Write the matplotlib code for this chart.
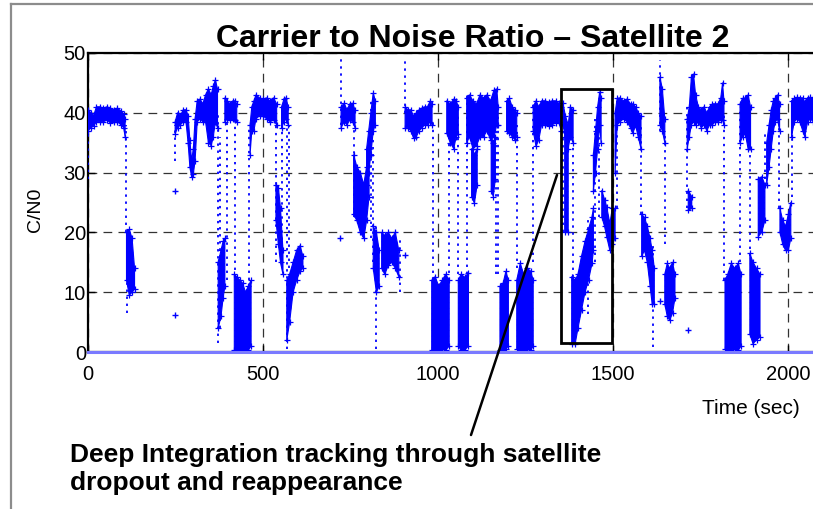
import numpy as np
import matplotlib.pyplot as plt
from matplotlib.lines import Line2D
from matplotlib.patches import Rectangle

plt.rcParams['font.family'] = ['Liberation Sans', 'DejaVu Sans']
plt.rcParams['hatch.color'] = '#7a7aff'
plt.rcParams['hatch.linewidth'] = 0.6

nan = np.nan

# tracking plateaus: time (s), upper / lower edge of the C/N0 band (dB-Hz)
band_time = [0, 8, 16, 24, 34, 44, 54, 64, 74, 84, 94, 102, 106, nan,
             249, 256, 264, 272, 280, 286, 291, 296, 301, 306, 312, 320, 328, 336, 344, 352, 358, 364, 370, nan,
             391, 398, 406, 414, 420, 425, nan,
             463, 468, 474, 480, 490, 500, 510, 520, 530, 539, nan,
             553, 560, 566, 572, nan,
             723, 732, 740, 748, 756, 763, nan,
             796, 802, 808, 815, 821, nan,
             906, 914, 922, 930, 938, 946, 954, 962, 970, 978, 983, nan,
             1025, 1035, 1045, 1052, 1058, nan,
             1082, 1090, 1100, 1110, 1120, 1130, 1140, 1150, 1160, 1168, 1172, nan,
             1196, 1204, 1212, 1220, 1225, nan,
             1272, 1280, 1288, 1296, 1306, 1316, 1326, 1336, 1345, 1352, nan,
             1357, 1364, 1372, 1378, 1386, nan,
             1444, 1450, 1456, 1462, 1466, nan,
             1506, 1512, 1520, 1530, 1540, 1550, 1556, 1565, 1572, 1580, nan,
             1634, 1641, 1648, nan,
             1712, 1718, 1724, 1730, 1736, 1744, 1752, 1760, 1768, 1776, 1784, 1792, 1800, 1808, 1813, 1817, nan,
             1863, 1870, 1878, 1886, 1893, nan,
             1939, 1946, 1952, 1958, 1964, 1970, 1976, nan,
             2010, 2018, 2026, 2034, 2042, 2048, 2056, 2064, 2072]
band_high = [40.5, 40, 39.5, 41, 41, 40.8, 41, 40.8, 40.5, 40.8, 40.3, 39.8, 39, nan,
             38.5, 40, 39.5, 40.5, 40.5, 39.5, 35.5, 32, 34, 39, 42, 42.3, 41.5, 43, 44, 43, 44.5, 45.5, 44, nan,
             42.5, 42, 41.5, 42, 42, 41.5, nan,
             38, 41, 42, 43, 42.5, 42.3, 42.5, 42, 42.5, 41.5, nan,
             41, 42.3, 42.5, 41, nan,
             41, 41.6, 40.5, 41.5, 41.6, 40.5, nan,
             34, 37, 40, 43.3, 42, nan,
             41, 40.5, 40.5, 39.5, 40, 40.5, 40.8, 41, 41, 42, 41.5, nan,
             42, 41.5, 42.3, 42, 41, nan,
             42.5, 43, 42, 41.5, 43, 42.5, 43, 42, 43.8, 44, 41, nan,
             42, 42.4, 41, 40.5, 40, nan,
             41, 42, 41, 42, 42, 41.8, 42, 42, 41.6, 41, nan,
             41.6, 39.5, 38, 41, 40.5, nan,
             33, 37, 41, 43.5, 42.5, nan,
             40, 42.4, 42.5, 42, 42.3, 41.5, 41.5, 41, 40, 39.5, nan,
             46, 44, 39, nan,
             39, 41, 46, 46.5, 43, 41, 40.5, 41, 40, 41, 41.5, 41.5, 41.5, 42.5, 45, 42, nan,
             41.5, 42.4, 42.5, 43, 41, nan,
             35, 38, 40.5, 42, 42.5, 43, 41.5, nan,
             42, 42.4, 42.6, 42.5, 42.5, 41.8, 42.5, 42.6, 42.4]
band_low = [37, 37.5, 37.8, 38.5, 38.5, 38.5, 38.8, 38.3, 38.5, 38.5, 38, 37.5, 36, nan,
            36.5, 37.5, 38, 38.5, 38.5, 35, 31, 29.3, 29.8, 32, 38.5, 39, 38.5, 38.5, 35, 34.5, 36, 38.5, 37.5, nan,
            38.5, 39, 38.8, 39, 38.8, 38.5, nan,
            33, 37, 37, 39, 39.5, 39.5, 39, 38.5, 38.8, 38, nan,
            37.5, 38.5, 39, 38, nan,
            37.5, 38.5, 38, 38.8, 38.5, 37.5, nan,
            28, 30, 33, 37, 38, nan,
            37.5, 37.5, 37, 35.8, 36, 37, 37.5, 38, 38, 38.5, 38, nan,
            36.6, 35, 34, 36, 36.5, nan,
            35, 36, 34, 34.5, 36, 36, 37, 35.5, 36, 38, 38, nan,
            37, 36.6, 36, 35.5, 36, nan,
            37, 34.4, 35.5, 38, 38, 37.8, 38, 38.3, 38.5, 37, nan,
            38, 36, 34, 36, 35, nan,
            27, 30, 34, 38, 35, nan,
            30, 38, 38.5, 39, 38.5, 37.5, 36.6, 37.8, 36, 34, nan,
            38, 37, 35, nan,
            34, 36, 38, 38.5, 38, 38.5, 37.5, 38, 37, 38, 38, 38.5, 38.5, 38.8, 38.8, 38, nan,
            35, 36, 36.5, 34, 34, nan,
            28, 31, 34, 37, 38.5, 39, 37, nan,
            36, 38.5, 39, 38.5, 37, 36, 38.5, 39, 38.5]

# signal fades: dense clusters at low C/N0
fade_time = [110, 118, 126, 133, nan,
             372, 380, 386, 391, nan,
             418, 426, 434, 442, 450, 458, 466, nan,
             537, 544, 550, 557, nan,
             568, 576, 586, 596, 606, 614, nan,
             759, 768, 778, 788, 796, 803, nan,
             815, 824, 832, nan,
             839, 848, 858, 868, 878, 888, nan,
             982, 992, 1002, 1012, 1022, 1032, nan,
             1058, 1066, 1076, 1087, nan,
             1096, 1104, 1112, nan,
             1152, 1158, 1164, nan,
             1177, 1186, 1194, 1201, nan,
             1225, 1235, 1245, 1255, 1265, 1272, nan,
             1362, 1372, nan,
             1382, 1392, 1400, 1410, 1420, 1430, 1440, 1444, nan,
             1468, 1476, 1482, 1491, 1498, 1506, nan,
             1582, 1590, 1598, 1606, 1612, 1618, nan,
             1648, 1655, 1662, 1670, 1677, nan,
             1715, 1725, nan,
             1820, 1828, 1838, 1848, 1858, 1866, nan,
             1891, 1900, 1910, 1920, nan,
             1915, 1925, 1934, nan,
             1977, 1985, 1993, 2001, 2008]
fade_high = [20, 20.5, 19, 14, nan,
             15, 17, 18.5, 19, nan,
             13, 12.5, 12, 11.5, 10, 11, 12, nan,
             28, 27.5, 24, 17, nan,
             12, 13, 15, 17, 17.8, 16, nan,
             33, 31, 30, 28, 31, 34, nan,
             21, 20, 17, nan,
             20, 19.5, 20, 19, 20, 17, nan,
             12, 12.6, 11, 12, 13, 12, nan,
             12, 13, 12.5, 13.2, nan,
             34, 33, 34, nan,
             36, 35, 36, nan,
             11, 11.5, 13.5, 12, nan,
             12, 14.8, 13, 14, 13.5, 12, nan,
             38, 36, nan,
             12.6, 12, 13, 16, 18.5, 20.5, 22.6, 24, nan,
             27, 25.5, 24.3, 21.5, 24, 24, nan,
             23, 22.5, 21, 19, 17, 14, nan,
             13, 14.8, 14, 15, 13, nan,
             27, 26, nan,
             12, 13, 14.8, 14, 14.8, 13, nan,
             16.5, 15, 14, 13, nan,
             29, 29.3, 28, nan,
             24, 22, 21, 23, 25]
fade_low = [12, 9.5, 10, 10.5, nan,
            4, 6, 9, 11, nan,
            0.3, 0.3, 0.5, 0.3, 0.3, 0.3, 1, nan,
            22, 18, 15, 13, nan,
            2, 5, 10, 12, 13.5, 14, nan,
            23, 22, 20, 19, 22, 26, nan,
            14, 10, 11, nan,
            14, 13, 14.5, 15, 14, 12.6, nan,
            0.3, 0.3, 0.3, 0.5, 0.3, 1, nan,
            1, 0.3, 0.3, 1, nan,
            26, 24.9, 28, nan,
            27, 26, 29, nan,
            0.3, 0.3, 0.5, 1, nan,
            0.5, 0.3, 0.3, 0.5, 0.3, 1, nan,
            20, 20, nan,
            1.4, 1.4, 4, 7, 10, 12, 14.8, 17, nan,
            22.6, 21, 19.3, 17, 18, 19, nan,
            16, 17, 15, 11, 8, 8, nan,
            8, 6, 5.3, 6.5, 9, nan,
            23.7, 24, nan,
            0.5, 0.3, 0.3, 0.5, 0.3, 1, nan,
            3, 1.4, 2, 2.5, nan,
            19.3, 20, 22, nan,
            20, 18, 17, 17, 19]

# sparse vertical runs of samples while the loop drops / reacquires
streak_time = [0, 108, 112, 249, 372, 378, 396, 420, 461, 537, 553, 568, 575, 723, 761,
               809, 815, 822, 891, 907, 985, 1030, 1058, 1082, 1165, 1172, 1225, 1272,
               1358, 1385, 1429, 1449, 1460, 1510, 1580, 1615, 1634, 1648, 1712, 1817,
               1863, 1891, 1934, 1975, 2010]
streak_top = [40, 38, 20, 38, 40, 36, 39, 39, 37.7, 38, 41, 40, 38, 49.4, 37.7,
              42, 41, 21, 19, 49.4, 39, 40, 40, 43, 38, 40, 38, 42,
              41, 35, 22, 39, 42, 42, 38, 18, 48.9, 37, 41, 40,
              41, 35, 37, 42, 42]
streak_bottom = [29, 20, 6.5, 32, 1.5, 4, 12, 12.6, 12, 15, 14, 0.5, 14, 38, 22.6,
                 19, 15, 0.5, 10, 40, 12, 12, 13, 13, 13, 13, 14, 15,
                 20, 12.6, 6.4, 15, 22.6, 24, 23, 0.8, 37, 18, 24, 12,
                 15, 16, 29, 24, 26]

# isolated samples
stray_time = [249, 249, 720, 906, 1634, 1715]
stray_cn0 = [27, 6.2, 19, 16.2, 8.5, 3.6]

# samples reported as zero (no lock) along the whole run
zero_time = [0, 2200]
zero_cn0 = [0, 0]

# highlighted dropout window
window_time = [1351, 1497]
window_cn0 = [1.5, 44]
pointer_at = (1340, 29.6)

blue = '#0000ff'

fig = plt.figure(figsize=(8.13, 5.09), dpi=100)
ax = fig.add_axes([88 / 813, 1 - 352 / 509, 770 / 813, 299 / 509])

ax.fill_between(band_time, band_low, band_high, color=blue, lw=0.8, zorder=3)
ax.fill_between(fade_time, fade_low, fade_high, facecolor=blue, edgecolor=blue,
                hatch='+++', lw=0.8, zorder=3)
for t, y in [(band_time, band_high), (band_time, band_low),
             (fade_time, fade_high), (fade_time, fade_low)]:
    ax.plot(t, y, '+', color=blue, ms=4, mew=0.9, zorder=3)
ax.vlines(streak_time, streak_bottom, streak_top, colors=blue, lw=1.3,
          linestyles=(0, (1.3, 2.6)), zorder=3)
ax.plot(stray_time, stray_cn0, '+', color=blue, ms=4, mew=1, zorder=3)
ax.plot(zero_time, zero_cn0, color='#7a7aff', lw=2.2, clip_on=False, zorder=4)

ax.add_patch(Rectangle((window_time[0], window_cn0[0]), window_time[1] - window_time[0],
                       window_cn0[1] - window_cn0[0], fill=False, ec='black', lw=2, zorder=5))
ax.annotate('', xy=pointer_at, xytext=(471 / 813, 1 - 435 / 509), textcoords='figure fraction',
            arrowprops=dict(arrowstyle='-', color='black', lw=1.8, shrinkA=0, shrinkB=0),
            annotation_clip=False, zorder=6)

ax.set_xlim(0, 2200)
ax.set_ylim(0, 50)
ax.set_xticks([0, 500, 1000, 1500, 2000])
ax.set_yticks([0, 10, 20, 30, 40, 50])
ax.grid(True, color='#333333', lw=0.9, linestyle=(0, (7, 5)))
ax.set_axisbelow(True)
ax.tick_params(direction='in', length=5, width=1, top=True, right=True, labelsize=14.5)
ax.tick_params(axis='x', pad=9)
ax.tick_params(axis='y', pad=1.5)
for side in ['left', 'top', 'bottom']:
    ax.spines[side].set_linewidth(1.6)
ax.spines['right'].set_visible(False)

ax.set_title('Carrier to Noise Ratio \u2013 Satellite 2', fontsize=23, fontweight='bold', pad=4)
fig.text(35 / 813, 1 - 210 / 509, 'C/N0', rotation=90, fontsize=14, ha='center', va='center')
fig.text(751 / 813, 1 - 408 / 509, 'Time (sec)', fontsize=15, ha='center', va='center')
fig.text(70 / 813, 1 - 462 / 509, 'Deep Integration tracking through satellite',
         fontsize=19, fontweight='bold', va='baseline')
fig.text(70 / 813, 1 - 490 / 509, 'dropout and reappearance',
         fontsize=19, fontweight='bold', va='baseline')

# slide frame
fig.add_artist(Line2D([11 / 813, 11 / 813], [0, 1 - 4 / 509], color='#8c8c8c', lw=1.6))
fig.add_artist(Line2D([11 / 813, 1], [1 - 4 / 509, 1 - 4 / 509], color='#8c8c8c', lw=1.6))

fig.savefig('out.png', dpi=100)
